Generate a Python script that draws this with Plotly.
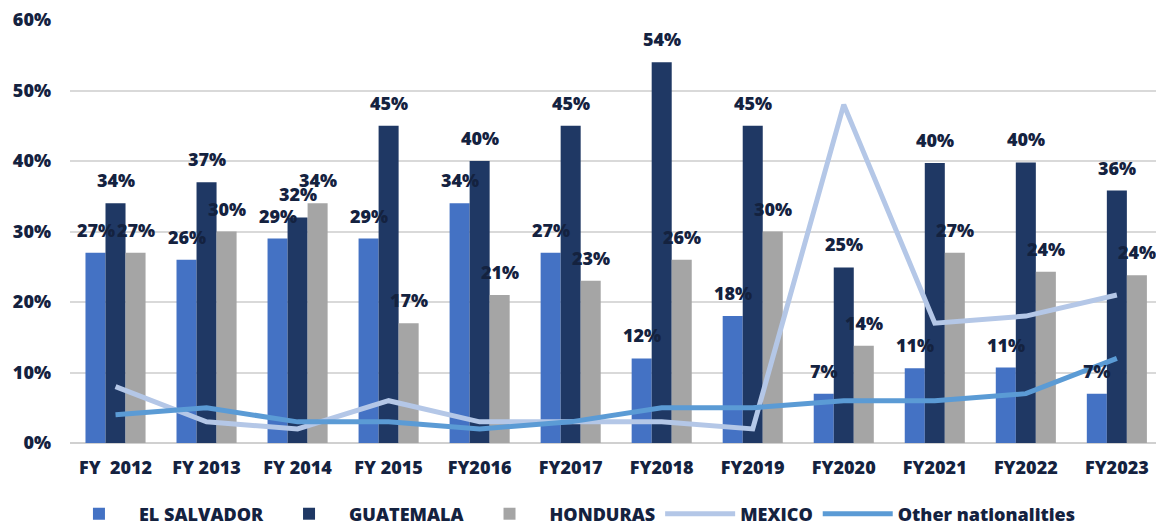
import plotly.graph_objects as go

categories = ["FY&nbsp; 2012", "FY 2013", "FY 2014", "FY 2015", "FY2016", "FY2017",
              "FY2018", "FY2019", "FY2020", "FY2021", "FY2022", "FY2023"]
el_salvador = [27, 26, 29, 29, 34, 27, 12, 18, 7, 10.6, 10.7, 7]
guatemala = [34, 37, 32, 45, 40, 45, 54, 45, 24.9, 39.7, 39.8, 35.8]
honduras = [27, 30, 34, 17, 21, 23, 26, 30, 13.8, 27, 24.3, 23.8]
mexico = [8, 3, 2, 6, 3, 3, 3, 2, 48, 17, 18, 21]
other = [4, 5, 3, 3, 2, 3, 5, 5, 6, 6, 7, 12]

TXT = "#14223f"
FONT = "Open Sans"
W = 800
FS = 18

fig = go.Figure()
bar_series = [
    ("EL SALVADOR", el_salvador, "#4472C4", -20),
    ("GUATEMALA", guatemala, "#1F3864", 0),
    ("HONDURAS", honduras, "#A5A5A5", 20),
]
for name, vals, col, _ in bar_series:
    fig.add_trace(go.Bar(name=name, x=categories, y=vals, marker=dict(color=col, line=dict(width=0))))

fig.add_trace(go.Scatter(name="MEXICO", x=categories, y=mexico, mode="lines",
                         line=dict(color="#B4C7E7", width=5)))
fig.add_trace(go.Scatter(name="Other nationalities", x=categories, y=other, mode="lines",
                         line=dict(color="#5B9BD5", width=5)))

annotations = []
for name, vals, col, dx in bar_series:
    for c, v in zip(categories, vals):
        annotations.append(dict(x=c, y=v, text=f"{round(v):d}%", showarrow=False,
                                xshift=dx, yshift=23, yanchor="middle", xanchor="center",
                                font=dict(family=FONT, size=FS, color=TXT, weight=W)))

fig.update_layout(
    width=1156, height=531,
    margin=dict(l=70, r=0, t=20, b=88, autoexpand=False),
    plot_bgcolor="white", paper_bgcolor="white",
    barmode="group", bargap=0.34, bargroupgap=0,
    annotations=annotations,
    font=dict(family=FONT, size=FS, color=TXT, weight=W),
    legend=dict(orientation="h", xref="container", x=0.051, xanchor="left",
                yref="container", y=0.032, yanchor="middle",
                font=dict(family=FONT, size=FS, color=TXT, weight=W),
                itemwidth=70, traceorder="normal"),
    showlegend=True,
)
fig.update_xaxes(range=[-0.5, 11.43], showgrid=False, showline=False,
                 tickfont=dict(family=FONT, size=FS, color=TXT, weight=W), ticks="", ticklabelstandoff=12)
fig.update_yaxes(range=[0, 60], dtick=10, ticksuffix="%", showgrid=True, gridcolor="#D9D9D9", gridwidth=1.5,
                 zeroline=True, zerolinecolor="#D0D0D0", zerolinewidth=2,
                 tickfont=dict(family=FONT, size=FS, color=TXT, weight=W), ticks="", ticklabelstandoff=18)

fig.write_html("out.html")
